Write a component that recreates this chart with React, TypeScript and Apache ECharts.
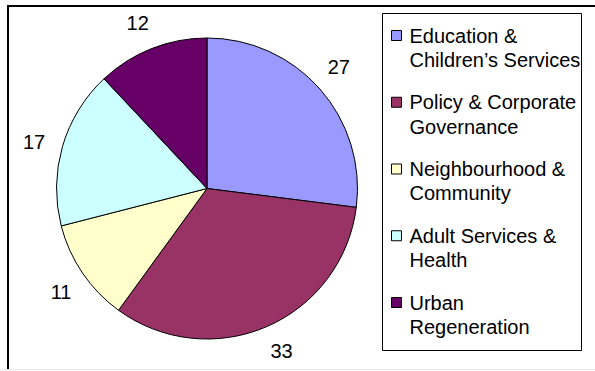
import React, { useEffect, useRef } from "react";
import * as echarts from "echarts";

const categories = [
  "Education &\nChildren’s Services",
  "Policy & Corporate\nGovernance",
  "Neighbourhood &\nCommunity",
  "Adult Services &\nHealth",
  "Urban\nRegeneration",
];
const values = [27, 33, 11, 17, 12];
const colors = ["#9999FF", "#993366", "#FFFFCC", "#CCFFFF", "#660066"];

const FONT = "'Liberation Sans', Arial, sans-serif";
const LINE_H = 24.3;

export default function App() {
  const ref = useRef<HTMLDivElement>(null);

  useEffect(() => {
    if (!ref.current) return;
    const chart = echarts.init(ref.current, null, { renderer: "svg" });
    const iconH = 10 + LINE_H;
    const option = {
      animation: false,
      backgroundColor: "#ffffff",
      legend: {
        orient: "vertical",
        left: 391,
        top: 23.35,
        padding: 0,
        itemGap: 18.15,
        itemWidth: 13,
        itemHeight: iconH,
        icon: `path://M0,0H10V10H0Z M13,${iconH}L13,${iconH}`,
        selectedMode: false,
        itemStyle: { borderColor: "#000", borderWidth: 1 },
        textStyle: {
          fontFamily: FONT,
          fontSize: 20,
          lineHeight: LINE_H,
          color: "#000",
        },
        data: categories,
      },
      graphic: [
        {
          type: "polyline",
          shape: { points: [[595, 6], [8, 6], [8, 369]] },
          style: { stroke: "#000", lineWidth: 2, fill: "none" },
          silent: true,
        },
        {
          type: "line",
          shape: { x1: 0, y1: 369.5, x2: 595, y2: 369.5 },
          style: { stroke: "#e6e6e6", lineWidth: 1 },
          silent: true,
        },
        {
          type: "rect",
          shape: { x: 382.5, y: 13.5, width: 199, height: 337 },
          style: { stroke: "#000", lineWidth: 1, fill: "none" },
          silent: true,
        },
      ],
      series: [
        {
          type: "pie",
          center: [207, 188.5],
          radius: 150.5,
          startAngle: 90,
          clockwise: true,
          silent: true,
          label: { show: false },
          labelLine: { show: false },
          emphasis: { disabled: true },
          itemStyle: { borderColor: "#000", borderWidth: 1 },
          data: categories.map((name, i) => ({
            name,
            value: values[i],
            itemStyle: { color: colors[i] },
          })),
        },
        {
          type: "pie",
          center: [207, 188.5],
          radius: [150, 202],
          startAngle: 91.2,
          clockwise: true,
          silent: true,
          emphasis: { disabled: true },
          itemStyle: { color: "rgba(0,0,0,0)", borderWidth: 0 },
          labelLine: { show: false },
          label: {
            show: true,
            position: "inside",
            formatter: "{c}",
            fontFamily: FONT,
            fontSize: 20,
            color: "#000",
          },
          data: categories.map((name, i) => ({ name, value: values[i] })),
        },
      ],
    };
    chart.setOption(option as any);
    return () => chart.dispose();
  }, []);

  return (
    <div
      ref={ref}
      style={{
        position: "fixed",
        left: 0,
        top: 0,
        width: 595,
        height: 371,
        background: "#fff",
      }}
    />
  );
}
